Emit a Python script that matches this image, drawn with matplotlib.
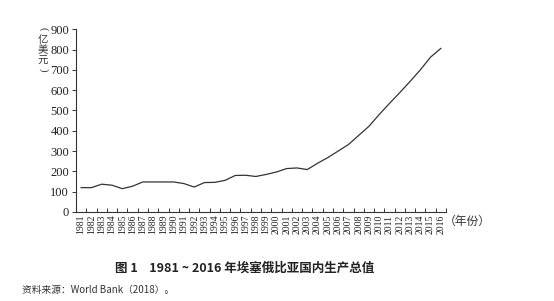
import matplotlib
matplotlib.use("Agg")
import matplotlib.pyplot as plt
import numpy as np

years = [str(y) for y in range(1981, 2017)]
gdp = [120, 120, 137, 132, 115, 127, 148, 148, 148, 148, 140, 123,
       145, 146, 156, 180, 181, 175, 185, 197, 214, 217, 209, 240,
       268, 300, 332, 377, 422, 480, 535, 588, 643, 700, 763, 806]
yticks = [0, 100, 200, 300, 400, 500, 600, 700, 800, 900]

serif = ['Liberation Serif', 'DejaVu Serif']
cjk = ['Noto Sans CJK SC', 'Liberation Serif']

fig = plt.figure(figsize=(5.54, 3.01), dpi=100)
ax = fig.add_axes([76/554, 1-212/301, (446-76)/554, (212-29.3)/301])

x = np.arange(len(years))
ax.plot(x, gdp, color='#333333', lw=0.9)

ax.set_xlim(-0.5, len(years)-0.5)
ax.set_ylim(0, 900)
ax.set_yticks(yticks)
ax.set_yticklabels([str(v) for v in yticks], family=serif, fontsize=9, color='#222222')
ax.set_xticks(x)
ax.set_xticklabels(years, rotation=90, family=serif, fontsize=7, color='#222222')
ax.set_xticks(np.arange(-0.5, len(years), 1.0), minor=True)
ax.tick_params(axis='x', which='major', length=0, pad=2)
ax.tick_params(axis='x', which='minor', length=3, direction='in', width=0.7, color='#333333')
ax.tick_params(axis='y', length=3, direction='out', width=0.7, color='#333333', pad=2)
for s in ['top', 'right']:
    ax.spines[s].set_visible(False)
for s in ['left', 'bottom']:
    ax.spines[s].set_linewidth(0.8)
    ax.spines[s].set_color('#333333')

ylab_x = 43/554
fig.text(ylab_x, 1-29/301, '(', family=serif, fontsize=8, rotation=-90,
         ha='center', va='center', color='#333333')
for ch, yy in [('亿', 40), ('美', 50.5), ('元', 61)]:
    fig.text(ylab_x, 1-yy/301, ch, family=cjk, fontsize=7.5,
             ha='center', va='center', color='#333333')
fig.text(ylab_x, 1-70/301, ')', family=serif, fontsize=8, rotation=-90,
         ha='center', va='center', color='#333333')
fig.text(444/554, 1-221/301, '（年份）', family=cjk, fontsize=8.5,
         ha='left', va='center', color='#333333')
fig.text(245/554, 1-268/301, '图 1    1981 ~ 2016 年埃塞俄比亚国内生产总值', family=cjk,
         fontsize=9, fontweight='bold', ha='center', va='center', color='#222222')
fig.text(22/554, 1-290/301, '资料来源：World Bank（2018）。', family=cjk,
         fontsize=7, ha='left', va='center', color='#333333')

fig.savefig('out.png', dpi=100)
